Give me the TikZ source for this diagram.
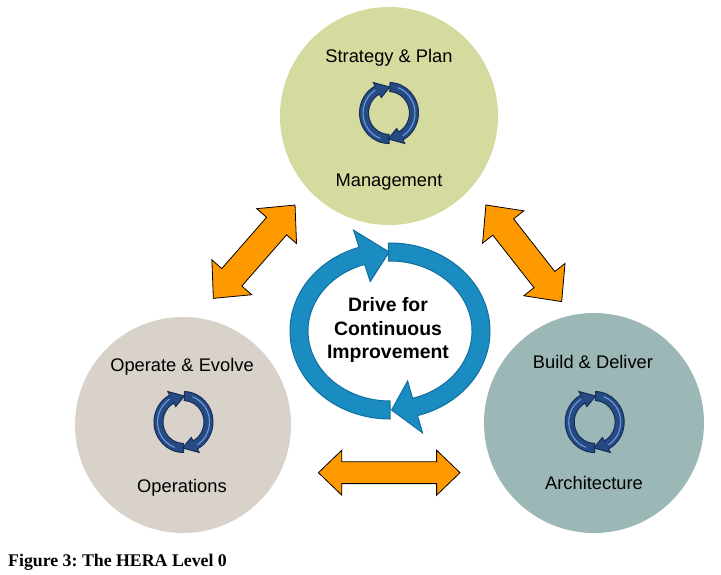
\documentclass[tikz,border=0pt]{standalone}
\usepackage{fontspec}
\setmainfont{Liberation Serif}
\newfontfamily\arialfont{Liberation Sans}
\usetikzlibrary{calc}
\frenchspacing

\definecolor{mgmtcol}{HTML}{D5DA9E}
\definecolor{opscol}{HTML}{D8D2CA}
\definecolor{archcol}{HTML}{9CB8B6}
\definecolor{orangecol}{HTML}{FF9900}
\definecolor{bigblue}{HTML}{1A8CC2}
\definecolor{bigblueedge}{HTML}{12709E}
\definecolor{iconfill}{HTML}{264A84}
\definecolor{iconedge}{HTML}{172D58}
\definecolor{iconlight}{HTML}{6C9BD8}

% half of a cycle: style, a, b, half band width, half head width, tail angle, head base angle, tip angle
\newcommand{\halfcyc}[8]{%
 \pgfmathsetmacro\hcAo{#2+#4}\pgfmathsetmacro\hcBo{#3+#4}%
 \pgfmathsetmacro\hcAi{#2-#4}\pgfmathsetmacro\hcBi{#3-#4}%
 \pgfmathsetmacro\hcAh{#2+#5}\pgfmathsetmacro\hcBh{#3+#5}%
 \pgfmathsetmacro\hcAj{#2-#5}\pgfmathsetmacro\hcBj{#3-#5}%
 \path[#1] (#6:\hcAo pt and \hcBo pt) arc[start angle=#6, end angle=#7, x radius=\hcAo pt, y radius=\hcBo pt]
 -- (#7:\hcAh pt and \hcBh pt) -- (#8:#2pt and #3pt) -- (#7:\hcAj pt and \hcBj pt)
 -- (#7:\hcAi pt and \hcBi pt) arc[start angle=#7, end angle=#6, x radius=\hcAi pt, y radius=\hcBi pt] -- cycle;}

% double block arrow: cx, cy, angle, half length, half shaft width, half head width, head length
\newcommand{\dblarrow}[7]{%
 \path[orangearrow, shift={(#1,#2)}, rotate=#3] (-#4,0) -- ({-#4+#7},#6) -- ({-#4+#7},#5)
 -- ({#4-#7},#5) -- ({#4-#7},#6) -- (#4,0) -- ({#4-#7},-#6) -- ({#4-#7},-#5)
 -- ({-#4+#7},-#5) -- ({-#4+#7},-#6) -- cycle;}

% small cycle icon at a named coordinate
\newcommand{\cycicon}[1]{%
 \begin{scope}[shift={(#1)}]
  \halfcyc{iconarrow}{25}{26}{4.5}{8.5}{270}{118}{88}
  \draw[iconlight, line width=1.1pt] (250:26pt and 27pt) arc[start angle=250, end angle=122, x radius=26pt, y radius=27pt];
  \halfcyc{iconarrow}{25}{26}{4.5}{8.5}{88}{-62}{-92}
  \draw[iconlight, line width=1.1pt] (70:26pt and 27pt) arc[start angle=70, end angle=-58, x radius=26pt, y radius=27pt];
 \end{scope}}

\tikzset{
  bigcircle/.style={circle, inner sep=0pt, draw=none},
  circtext/.style={font=\arialfont\fontsize{18.3}{22}\selectfont, inner sep=0pt, text=black},
  orangearrow/.style={fill=orangecol, draw=black, line width=0.8pt, line join=miter},
  bigarrow/.style={fill=bigblue, draw=bigblueedge, line width=1pt, line join=miter},
  iconarrow/.style={fill=iconfill, draw=iconedge, line width=1pt, line join=miter},
}

\begin{document}
\begin{tikzpicture}[x=1pt, y=1pt]
\useasboundingbox (0,0) rectangle (721,574);
\fill[white] (0,0) rectangle (721,574);

% three circles
\node[bigcircle, fill=mgmtcol, minimum size=218pt] (mgmt) at (389,458) {};
\node[bigcircle, fill=opscol, minimum size=216pt] (ops) at (183,149) {};
\node[bigcircle, fill=archcol, minimum size=220pt] (arch) at (594,151) {};

% orange double arrows
\coordinate (ulc) at (254.2,322.3);
\coordinate (urc) at (523.8,320.7);
\coordinate (btc) at (389.2,101.3);
\dblarrow{254.2}{322.3}{48.8}{62}{13.3}{26.5}{28}
\dblarrow{523.8}{320.7}{-51.9}{61.4}{13.2}{26.2}{28}
\dblarrow{389.2}{101.3}{0}{70.8}{10.9}{22.5}{23.4}

% central cycle
\coordinate (cyc) at (390,243);
\begin{scope}[shift={(cyc)}]
  \halfcyc{bigarrow}{91}{79}{9}{27}{270}{108}{90.5}
  \halfcyc{bigarrow}{91}{79}{9}{27}{91}{-74}{-89}
\end{scope}
\node[align=center, inner sep=0pt, font=\arialfont\bfseries\fontsize{19.4}{23.5}\selectfont] (drive) at (388,244) {Drive for\\Continuous\\Improvement};

% icons
\coordinate (mgmticon) at (389,461);
\coordinate (opsicon) at (183.5,152);
\coordinate (archicon) at (594.7,152);
\cycicon{mgmticon}
\cycicon{opsicon}
\cycicon{archicon}

% circle texts
\node[circtext] (mgmttop) at (389,516) {Strategy \& Plan};
\node[circtext] (mgmtbot) at (389,392) {Management};
\node[circtext] (opstop) at (182,207) {Operate \& Evolve};
\node[circtext] (opsbot) at (182,86) {Operations};
\node[circtext] (archtop) at (593,212) {Build \& Deliver};
\node[circtext] (archbot) at (594,91) {Architecture};

% caption
\node[anchor=west, inner sep=0pt, font=\bfseries\fontsize{17.8}{20}\selectfont] (caption) at (8,12) {Figure 3: The HERA Level 0};
\end{tikzpicture}
\end{document}
